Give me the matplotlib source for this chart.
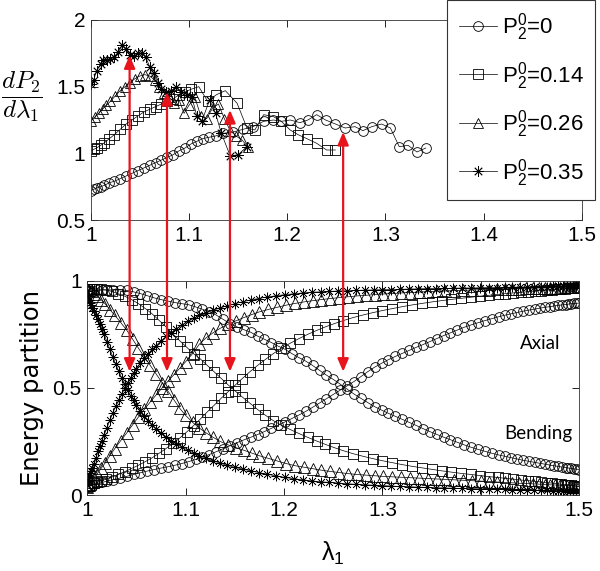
import matplotlib
matplotlib.use("Agg")
import matplotlib.pyplot as plt
from matplotlib.patches import ConnectionPatch
from matplotlib.transforms import blended_transform_factory

plt.rcParams['font.family'] = ['Liberation Sans', 'DejaVu Sans']
plt.rcParams['mathtext.fontset'] = 'custom'
plt.rcParams['mathtext.rm'] = 'Liberation Sans'
plt.rcParams['mathtext.it'] = 'Liberation Sans:italic'

# ---------------- data: top panel  dP2/dlambda1 ----------------
labels = ['$\\mathregular{P_2^0}$=0', '$\\mathregular{P_2^0}$=0.14',
          '$\\mathregular{P_2^0}$=0.26', '$\\mathregular{P_2^0}$=0.35']

top_x_c = [1.000, 1.003, 1.006, 1.010, 1.014, 1.019, 1.024, 1.030, 1.036, 1.042, 1.048, 1.054,
           1.060, 1.066, 1.072, 1.078, 1.084, 1.090, 1.096, 1.102, 1.108, 1.114, 1.120, 1.127,
           1.135, 1.145, 1.155, 1.165, 1.176, 1.186, 1.194, 1.203, 1.213, 1.221, 1.230, 1.239,
           1.249, 1.259, 1.269, 1.277, 1.286, 1.296, 1.305, 1.314, 1.323, 1.332, 1.341]
top_y_c = [0.72, 0.73, 0.74, 0.75, 0.76, 0.78, 0.79, 0.81, 0.83, 0.85, 0.87, 0.89,
           0.91, 0.93, 0.95, 0.97, 0.99, 1.02, 1.04, 1.07, 1.09, 1.11, 1.12, 1.13,
           1.15, 1.16, 1.18, 1.20, 1.24, 1.25, 1.24, 1.25, 1.23, 1.25, 1.29, 1.25,
           1.22, 1.19, 1.20, 1.17, 1.20, 1.22, 1.19, 1.05, 1.06, 1.01, 1.04]

top_x_s = [1.000, 1.003, 1.006, 1.010, 1.014, 1.019, 1.024, 1.030, 1.036, 1.042, 1.048, 1.054,
           1.060, 1.066, 1.072, 1.078, 1.084, 1.090, 1.096, 1.102, 1.110, 1.119, 1.128, 1.137,
           1.149, 1.159, 1.167, 1.176, 1.186, 1.194, 1.203, 1.211, 1.220, 1.230, 1.240, 1.249]
top_y_s = [1.02, 1.03, 1.04, 1.06, 1.08, 1.11, 1.14, 1.18, 1.22, 1.25, 1.28, 1.31,
           1.33, 1.35, 1.37, 1.39, 1.41, 1.44, 1.46, 1.48, 1.50, 1.39, 1.44, 1.47,
           1.375, 1.19, 1.175, 1.29, 1.275, 1.24, 1.175, 1.14, 1.11, 1.075, 1.025, 1.025]

top_x_t = [1.000, 1.004, 1.008, 1.012, 1.016, 1.020, 1.025, 1.030, 1.035, 1.040, 1.045, 1.050,
           1.055, 1.060, 1.065, 1.070, 1.075, 1.080, 1.085, 1.090, 1.095, 1.100, 1.106, 1.112,
           1.118, 1.124, 1.130, 1.136, 1.142, 1.148, 1.154, 1.160]
top_y_t = [1.24, 1.27, 1.30, 1.33, 1.36, 1.39, 1.43, 1.47, 1.50, 1.53, 1.56, 1.58,
           1.59, 1.58, 1.55, 1.50, 1.45, 1.42, 1.38, 1.40, 1.30, 1.36, 1.42, 1.28,
           1.26, 1.34, 1.37, 1.26, 1.17, 1.13, 1.10, 1.05]

top_x_a = [1.000, 1.003, 1.006, 1.010, 1.013, 1.017, 1.020, 1.024, 1.028, 1.032, 1.036, 1.040,
           1.044, 1.048, 1.052, 1.056, 1.060, 1.064, 1.068, 1.072, 1.077, 1.082, 1.087, 1.092,
           1.098, 1.103, 1.108, 1.113, 1.121, 1.127, 1.133, 1.142, 1.150, 1.159]
top_y_a = [1.52, 1.55, 1.62, 1.67, 1.70, 1.70, 1.71, 1.72, 1.76, 1.81, 1.78, 1.74,
           1.73, 1.75, 1.75, 1.72, 1.65, 1.60, 1.53, 1.48, 1.46, 1.47, 1.50, 1.46,
           1.44, 1.42, 1.28, 1.24, 1.40, 1.30, 1.15, 0.98, 0.99, 1.05]

# ---------------- data: bottom panel  energy partition ----------------
bot_x_c = [1.000, 1.003, 1.006, 1.010, 1.015, 1.020, 1.026, 1.033, 1.040, 1.047, 1.054, 1.061,
           1.068, 1.075, 1.082, 1.089, 1.096, 1.103, 1.110, 1.117, 1.124, 1.131, 1.138, 1.145,
           1.152, 1.159, 1.166, 1.173, 1.180, 1.187, 1.194, 1.201, 1.208, 1.215, 1.222, 1.229,
           1.236, 1.243, 1.250, 1.257, 1.264, 1.271, 1.278, 1.285, 1.292, 1.299, 1.306, 1.313,
           1.320, 1.327, 1.334, 1.341, 1.348, 1.355, 1.362, 1.369, 1.376, 1.383, 1.390, 1.397,
           1.404, 1.411, 1.418, 1.425, 1.431, 1.437, 1.443, 1.449, 1.455, 1.460, 1.465, 1.470,
           1.474, 1.478, 1.482, 1.486, 1.489, 1.492, 1.495, 1.498, 1.500]
axial_c = [0.040, 0.045, 0.050, 0.055, 0.060, 0.066, 0.073, 0.080, 0.088, 0.097, 0.105, 0.113,
           0.120, 0.127, 0.133, 0.140, 0.148, 0.157, 0.167, 0.178, 0.190, 0.203, 0.217, 0.231,
           0.245, 0.258, 0.270, 0.283, 0.297, 0.312, 0.327, 0.342, 0.358, 0.374, 0.391, 0.410,
           0.430, 0.450, 0.470, 0.490, 0.510, 0.530, 0.553, 0.576, 0.597, 0.615, 0.632, 0.647,
           0.661, 0.675, 0.689, 0.702, 0.716, 0.730, 0.744, 0.757, 0.770, 0.783, 0.794, 0.804,
           0.814, 0.823, 0.832, 0.840, 0.846, 0.852, 0.858, 0.863, 0.868, 0.872, 0.876, 0.879,
           0.882, 0.885, 0.887, 0.889, 0.891, 0.893, 0.894, 0.895, 0.896]
bend_c = [0.950, 0.952, 0.953, 0.955, 0.956, 0.957, 0.957, 0.957, 0.955, 0.948, 0.940, 0.930,
          0.920, 0.912, 0.905, 0.898, 0.893, 0.888, 0.878, 0.867, 0.855, 0.840, 0.820, 0.800,
          0.785, 0.772, 0.760, 0.742, 0.727, 0.712, 0.695, 0.680, 0.660, 0.642, 0.625, 0.605,
          0.582, 0.560, 0.540, 0.518, 0.495, 0.472, 0.452, 0.432, 0.413, 0.397, 0.382, 0.368,
          0.354, 0.340, 0.326, 0.311, 0.297, 0.284, 0.271, 0.259, 0.247, 0.235, 0.224, 0.214,
          0.205, 0.196, 0.188, 0.181, 0.175, 0.169, 0.163, 0.158, 0.153, 0.149, 0.145, 0.141,
          0.138, 0.135, 0.132, 0.129, 0.127, 0.125, 0.123, 0.121, 0.120]

bot_x_s = [1.000, 1.002, 1.004, 1.007, 1.010, 1.014, 1.019, 1.025, 1.031, 1.038, 1.045, 1.052,
           1.059, 1.066, 1.073, 1.080, 1.087, 1.094, 1.101, 1.108, 1.115, 1.122, 1.129, 1.136,
           1.143, 1.150, 1.157, 1.165, 1.173, 1.181, 1.189, 1.197, 1.206, 1.215, 1.224, 1.233,
           1.242, 1.251, 1.260, 1.270, 1.280, 1.290, 1.300, 1.310, 1.320, 1.330, 1.340, 1.350,
           1.360, 1.370, 1.380, 1.390, 1.399, 1.408, 1.417, 1.425, 1.433, 1.441, 1.448, 1.455,
           1.461, 1.467, 1.472, 1.477, 1.481, 1.485, 1.489, 1.492, 1.495, 1.498, 1.500]
axial_s = [0.040, 0.045, 0.050, 0.055, 0.060, 0.067, 0.075, 0.085, 0.097, 0.110, 0.125, 0.140,
           0.157, 0.175, 0.196, 0.218, 0.242, 0.267, 0.295, 0.325, 0.356, 0.389, 0.420, 0.452,
           0.482, 0.512, 0.542, 0.575, 0.605, 0.633, 0.660, 0.685, 0.708, 0.730, 0.750, 0.768,
           0.785, 0.800, 0.814, 0.828, 0.840, 0.851, 0.861, 0.870, 0.879, 0.887, 0.894, 0.901,
           0.907, 0.913, 0.918, 0.923, 0.928, 0.932, 0.936, 0.940, 0.943, 0.946, 0.949, 0.952,
           0.954, 0.956, 0.958, 0.960, 0.962, 0.963, 0.965, 0.966, 0.967, 0.968, 0.970]
bend_s = [0.960, 0.962, 0.963, 0.963, 0.962, 0.960, 0.957, 0.950, 0.940, 0.928, 0.912, 0.893,
          0.870, 0.845, 0.815, 0.785, 0.752, 0.720, 0.690, 0.660, 0.635, 0.605, 0.575, 0.545,
          0.515, 0.487, 0.460, 0.430, 0.400, 0.373, 0.348, 0.327, 0.307, 0.288, 0.270, 0.253,
          0.237, 0.222, 0.208, 0.194, 0.182, 0.171, 0.161, 0.152, 0.143, 0.135, 0.128, 0.121,
          0.114, 0.108, 0.102, 0.097, 0.092, 0.087, 0.083, 0.079, 0.075, 0.071, 0.068, 0.065,
          0.062, 0.059, 0.057, 0.054, 0.052, 0.050, 0.048, 0.046, 0.044, 0.042, 0.040]

bot_x_t = [1.000, 1.002, 1.004, 1.007, 1.010, 1.014, 1.018, 1.023, 1.028, 1.034, 1.040, 1.046,
           1.052, 1.058, 1.064, 1.070, 1.076, 1.082, 1.088, 1.094, 1.100, 1.107, 1.114, 1.121,
           1.128, 1.135, 1.143, 1.151, 1.159, 1.167, 1.175, 1.184, 1.193, 1.202, 1.211, 1.220,
           1.229, 1.238, 1.247, 1.256, 1.265, 1.274, 1.283, 1.292, 1.301, 1.310, 1.319, 1.328,
           1.337, 1.346, 1.355, 1.364, 1.373, 1.382, 1.391, 1.400, 1.408, 1.416, 1.424, 1.432,
           1.439, 1.446, 1.453, 1.459, 1.465, 1.470, 1.475, 1.480, 1.484, 1.488, 1.491, 1.494,
           1.497, 1.500]
axial_t = [0.040, 0.050, 0.062, 0.080, 0.100, 0.125, 0.150, 0.185, 0.218, 0.255, 0.290, 0.328,
           0.365, 0.400, 0.435, 0.468, 0.500, 0.532, 0.562, 0.592, 0.623, 0.660, 0.705, 0.735,
           0.758, 0.778, 0.797, 0.813, 0.828, 0.842, 0.855, 0.866, 0.876, 0.886, 0.894, 0.901,
           0.907, 0.912, 0.917, 0.921, 0.925, 0.929, 0.932, 0.935, 0.938, 0.940, 0.943, 0.945,
           0.947, 0.949, 0.951, 0.952, 0.954, 0.955, 0.957, 0.958, 0.959, 0.960, 0.961, 0.962,
           0.963, 0.964, 0.965, 0.966, 0.966, 0.967, 0.968, 0.968, 0.969, 0.969, 0.970, 0.970,
           0.970, 0.971]
bend_t = [0.960, 0.955, 0.950, 0.940, 0.928, 0.912, 0.893, 0.865, 0.838, 0.805, 0.770, 0.728,
          0.685, 0.645, 0.605, 0.565, 0.525, 0.485, 0.445, 0.405, 0.372, 0.340, 0.313, 0.290,
          0.270, 0.251, 0.235, 0.222, 0.210, 0.197, 0.184, 0.172, 0.160, 0.148, 0.138, 0.131,
          0.124, 0.117, 0.111, 0.106, 0.101, 0.097, 0.094, 0.091, 0.088, 0.086, 0.084, 0.082,
          0.080, 0.078, 0.076, 0.074, 0.072, 0.070, 0.068, 0.066, 0.064, 0.062, 0.060, 0.058,
          0.056, 0.055, 0.053, 0.052, 0.050, 0.049, 0.048, 0.047, 0.046, 0.045, 0.044, 0.043,
          0.042, 0.041]

bot_x_a = [1.000, 1.001, 1.002, 1.003, 1.004, 1.005, 1.007, 1.009, 1.011, 1.013, 1.015, 1.017,
           1.020, 1.023, 1.026, 1.029, 1.032, 1.035, 1.038, 1.041, 1.044, 1.047, 1.050, 1.054,
           1.058, 1.062, 1.066, 1.070, 1.075, 1.080, 1.085, 1.090, 1.096, 1.102, 1.108, 1.114,
           1.121, 1.128, 1.135, 1.142, 1.150, 1.158, 1.166, 1.174, 1.183, 1.192, 1.201, 1.210,
           1.219, 1.228, 1.237, 1.246, 1.255, 1.264, 1.273, 1.282, 1.291, 1.300, 1.309, 1.318,
           1.327, 1.336, 1.345, 1.354, 1.363, 1.372, 1.381, 1.390, 1.399, 1.408, 1.416, 1.424,
           1.432, 1.440, 1.447, 1.454, 1.461, 1.467, 1.473, 1.478, 1.483, 1.487, 1.491, 1.494,
           1.497, 1.500]
axial_a = [0.050, 0.070, 0.090, 0.105, 0.115, 0.125, 0.145, 0.175, 0.205, 0.230, 0.255, 0.280,
           0.315, 0.350, 0.385, 0.415, 0.445, 0.472, 0.498, 0.523, 0.547, 0.570, 0.590, 0.615,
           0.638, 0.660, 0.680, 0.698, 0.720, 0.740, 0.758, 0.775, 0.793, 0.810, 0.824, 0.838,
           0.851, 0.862, 0.873, 0.883, 0.893, 0.902, 0.910, 0.917, 0.924, 0.930, 0.935, 0.939,
           0.943, 0.946, 0.948, 0.950, 0.952, 0.953, 0.955, 0.956, 0.957, 0.958, 0.959, 0.960,
           0.961, 0.962, 0.963, 0.963, 0.964, 0.965, 0.966, 0.966, 0.967, 0.968, 0.968, 0.969,
           0.970, 0.970, 0.971, 0.971, 0.972, 0.972, 0.973, 0.973, 0.974, 0.974, 0.974, 0.975,
           0.975, 0.975]
bend_a = [0.950, 0.930, 0.910, 0.895, 0.885, 0.875, 0.860, 0.840, 0.820, 0.800, 0.775, 0.752,
          0.715, 0.680, 0.645, 0.610, 0.578, 0.547, 0.518, 0.490, 0.465, 0.442, 0.420, 0.394,
          0.370, 0.348, 0.328, 0.310, 0.290, 0.272, 0.255, 0.240, 0.225, 0.210, 0.197, 0.185,
          0.172, 0.160, 0.150, 0.140, 0.130, 0.122, 0.114, 0.106, 0.098, 0.090, 0.083, 0.077,
          0.072, 0.067, 0.063, 0.060, 0.057, 0.054, 0.051, 0.049, 0.047, 0.045, 0.043, 0.041,
          0.040, 0.038, 0.037, 0.035, 0.034, 0.033, 0.032, 0.031, 0.030, 0.029, 0.028, 0.027,
          0.026, 0.025, 0.025, 0.024, 0.023, 0.023, 0.022, 0.022, 0.021, 0.021, 0.020, 0.020,
          0.020, 0.020]

# arrows: x position, top-panel y (dP2/dl1), bottom-panel y (energy)
arrow_x = [1.043, 1.081, 1.145, 1.260]
arrow_top = [1.735, 1.46, 1.325, 1.16]
arrow_bot = [0.576, 0.576, 0.576, 0.576]

xticks = [1, 1.1, 1.2, 1.3, 1.4, 1.5]
xticklabels = ['1', '1.1', '1.2', '1.3', '1.4', '1.5']

# ---------------- figure ----------------
fig = plt.figure(figsize=(6.0, 5.71), dpi=100)
ax1 = fig.add_axes([0.1512, 0.6147, 0.8188, 0.3503])
ax2 = fig.add_axes([0.1455, 0.1326, 0.8200, 0.3758])

mk_star = (8, 2, 0)
line_kw = dict(color='black', lw=0.5, mfc='none', mec='black', mew=0.6)

series_top = [(top_x_c, top_y_c, 'o', 7.0), (top_x_s, top_y_s, 's', 7.0),
              (top_x_t, top_y_t, '^', 7.5), (top_x_a, top_y_a, mk_star, 7.5)]
for (xs, ys, m, ms), lab in zip(series_top, labels):
    ax1.plot(xs, ys, marker=m, ms=ms, label=lab, **line_kw)

series_bot = [(bot_x_c, axial_c, bend_c, 'o', 7.0), (bot_x_s, axial_s, bend_s, 's', 7.5),
              (bot_x_t, axial_t, bend_t, '^', 8.0), (bot_x_a, axial_a, bend_a, mk_star, 7.0)]
for xs, a, b, m, ms in series_bot:
    kw = dict(line_kw)
    if m == mk_star:
        kw['mew'] = 0.5
    ax2.plot(xs, a, marker=m, ms=ms, **kw)
    ax2.plot(xs, b, marker=m, ms=ms, **kw)

for ax in (ax1, ax2):
    ax.set_xlim(1, 1.5)
    ax.set_xticks(xticks)
    ax.set_xticklabels(xticklabels)
    ax.tick_params(direction='in', length=5, width=0.6, top=True, right=True,
                   labelsize=15, pad=4, colors='black')
    for sp in ax.spines.values():
        sp.set_linewidth(0.6)
        sp.set_color('#333333')

ax1.set_ylim(0.5, 2)
ax1.set_yticks([0.5, 1, 1.5, 2])
ax1.set_yticklabels(['0.5', '1', '1.5', '2'])
ax2.set_ylim(0, 1)
ax2.set_yticks([0, 0.5, 1])
ax2.set_yticklabels(['0', '0.5', '1'])

leg = ax1.legend(loc='upper right', bbox_to_anchor=(595 / 600, 1.0), bbox_transform=fig.transFigure,
                 fontsize=16, frameon=True, fancybox=False, framealpha=1, edgecolor='#333333',
                 handlelength=1.75, handletextpad=0.2, labelspacing=0.75, borderpad=0.5,
                 borderaxespad=0.0)
leg.get_frame().set_linewidth(0.8)

ax2.text(1.46, 0.706, 'Axial', family='Lato', fontsize=13.5, ha='center', va='center')
ax2.text(1.458, 0.29, 'Bending', family='Lato', fontsize=13.5, ha='center', va='center')

fig.text(22 / 600, 1 - 97 / 571, r'$\dfrac{dP_2}{d\lambda_1}$', fontsize=18, ha='center', va='center',
         math_fontfamily='cm')
fig.text(32 / 600, 1 - 388 / 571, 'Energy partition', family='DejaVu Sans', fontsize=17.5,
         rotation=90, ha='center', va='center')
fig.text(333 / 600, 1 - 553 / 571, r'$\mathregular{\lambda_1}$', fontsize=18, ha='center', va='center')

trA = blended_transform_factory(ax2.transData, ax1.transData)
for xa, yt, yb in zip(arrow_x, arrow_top, arrow_bot):
    cp = ConnectionPatch(xyA=(xa, yt), coordsA=trA, xyB=(xa, yb), coordsB=ax2.transData,
                         arrowstyle='<|-|>,head_length=0.7,head_width=0.3', mutation_scale=11,
                         color='#e8141c', lw=1.6, shrinkA=0, shrinkB=0, zorder=10)
    fig.add_artist(cp)

fig.savefig('out.png', dpi=100)
